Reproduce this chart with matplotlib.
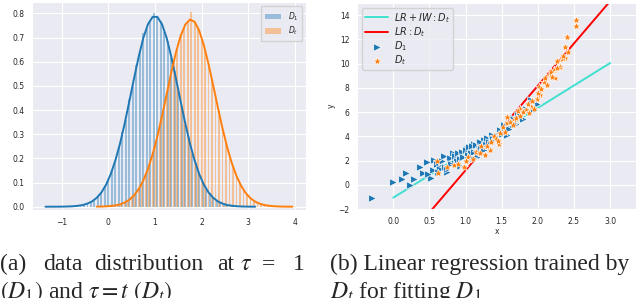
import numpy as np
import matplotlib
matplotlib.use("Agg")
import matplotlib.pyplot as plt
import seaborn as sns

# ---- (a) histogram + kde values ----
bin_w = 0.075
blue_bin_start = -0.9
blue_hist = [0.001, 0.002, 0.002, 0.004, 0.006, 0.009, 0.012, 0.021, 0.027, 0.044,
             0.057, 0.085, 0.108, 0.151, 0.186, 0.248, 0.31, 0.36, 0.445, 0.5,
             0.585, 0.635, 0.72, 0.735, 0.77, 0.80, 0.78, 0.77, 0.725, 0.685,
             0.615, 0.56, 0.478, 0.418, 0.34, 0.288, 0.22, 0.18, 0.13, 0.104,
             0.07, 0.055, 0.035, 0.027, 0.015, 0.012, 0.006, 0.005, 0.002, 0.002,
             0.001, 0.001]
orange_bin_start = -0.1
orange_hist = [0.001, 0.002, 0.003, 0.004, 0.008, 0.011, 0.018, 0.024, 0.039, 0.05,
               0.076, 0.097, 0.135, 0.168, 0.222, 0.268, 0.338, 0.392, 0.47, 0.525,
               0.605, 0.65, 0.715, 0.74, 0.77, 0.805, 0.76, 0.745, 0.695, 0.655,
               0.585, 0.53, 0.45, 0.395, 0.32, 0.268, 0.205, 0.17, 0.124, 0.098,
               0.068, 0.052, 0.033, 0.025, 0.015, 0.012, 0.006, 0.005, 0.003, 0.002,
               0.001, 0.001, 0.0005]

kde_step = 0.1
blue_kde_start = -1.35
blue_kde = [0.0, 0.0, 0.0001, 0.0002, 0.0005, 0.001, 0.002, 0.004, 0.007, 0.013,
            0.022, 0.037, 0.059, 0.091, 0.135, 0.192, 0.262, 0.345, 0.437, 0.531,
            0.621, 0.699, 0.756, 0.786, 0.786, 0.756, 0.699, 0.621, 0.531, 0.437,
            0.345, 0.262, 0.192, 0.135, 0.091, 0.059, 0.037, 0.022, 0.013, 0.007,
            0.004, 0.002, 0.001, 0.0005, 0.0002, 0.0001]
orange_kde_start = -0.25
orange_kde = [0.0004, 0.0007, 0.0015, 0.0029, 0.0055, 0.0099, 0.0173, 0.029, 0.047, 0.073,
              0.109, 0.157, 0.218, 0.291, 0.375, 0.465, 0.556, 0.639, 0.707, 0.754,
              0.775, 0.766, 0.729, 0.668, 0.590, 0.502, 0.411, 0.324, 0.246, 0.180,
              0.127, 0.086, 0.056, 0.035, 0.021, 0.0124, 0.007, 0.0038, 0.002, 0.001,
              0.0005, 0.0002, 0.0001]

# ---- (b) scatter + regression lines ----
d1_x = [-0.29, 0.0, 0.12, 0.18, 0.23, 0.29, 0.37, 0.41, 0.46, 0.52, 0.56, 0.63, 0.70,
        0.75, 0.83, 0.86, 1.02, 1.11, 1.16, 1.25, 1.41, 1.57, 1.62, 1.76, 1.90, 1.94,
        1.99, 0.55, 0.60, 0.65, 0.68, 0.72, 0.78, 0.80, 0.85, 0.88, 0.90, 0.93, 0.95,
        0.97, 1.00, 1.03, 1.05, 1.07, 1.09, 1.12, 1.14, 1.18, 1.20, 1.22, 1.28, 1.30,
        1.33, 1.36, 1.38, 1.44, 1.47, 1.50, 1.53, 1.60, 1.66, 1.70, 1.73, 1.80, 1.84,
        0.48, 0.62, 0.74, 0.92, 1.10, 1.26]
d1_y = [-1.1, 0.26, 0.48, 0.95, -0.01, 0.48, 1.5, 1.0, 1.9, 0.6, 2.05, 1.64, 2.4,
        1.1, 2.6, 1.83, 3.0, 3.4, 2.3, 3.7, 3.7, 4.1, 4.8, 5.6, 7.0, 6.2,
        6.7, 1.2, 1.7, 1.35, 2.0, 1.5, 2.2, 1.75, 2.4, 1.95, 2.6, 2.1, 2.75,
        2.3, 2.9, 2.45, 3.1, 2.6, 3.2, 2.75, 3.3, 2.9, 3.55, 3.1, 3.35, 3.9,
        3.55, 4.15, 3.75, 4.0, 4.55, 4.2, 4.9, 4.6, 5.5, 5.0, 5.8, 5.4, 6.3,
        0.9, 1.1, 1.3, 1.6, 2.2, 2.9]
dt_x = [0.60, 0.62, 0.75, 0.84, 0.98, 1.04, 1.14, 1.21, 1.27, 1.34, 1.39, 1.46, 1.52,
        1.57, 1.67, 1.76, 1.83, 1.90, 1.99, 2.03, 2.01, 2.08, 2.15, 2.22, 2.24, 2.26,
        2.33, 2.37, 2.40, 2.38, 2.53, 2.53, 2.30, 1.20, 1.30, 1.42, 1.48, 1.55, 1.62,
        1.70, 1.72, 1.80, 1.86, 1.88, 1.92, 1.95, 2.00, 2.05, 2.10, 2.12, 2.18, 2.20,
        2.27, 2.35, 2.42, 1.10, 1.00, 0.90, 1.58, 1.65, 1.75, 1.35, 1.45]
dt_y = [1.97, 0.95, 1.5, 1.64, 1.5, 2.3, 2.7, 3.2, 2.5, 2.9, 4.0, 3.4, 4.8,
        5.1, 5.35, 6.3, 6.2, 6.45, 7.1, 7.4, 8.1, 8.5, 9.05, 9.5, 8.8, 10.2,
        10.4, 11.4, 12.2, 10.5, 13.6, 13.1, 9.7, 2.6, 3.2, 3.8, 4.3, 4.4, 5.2,
        5.5, 6.1, 6.0, 6.7, 5.9, 6.9, 6.3, 7.6, 7.9, 8.8, 8.2, 9.3, 8.9,
        9.6, 10.6, 11.0, 2.1, 2.0, 1.7, 5.6, 4.9, 5.7, 3.5, 3.6]
line_x = [0.0, 3.0]
iw_pred = [-1.05, 10.05]
lr_pred = [-5.76, 15.15]

sns.set_style("darkgrid")
plt.rcParams['font.family'] = ['DejaVu Sans']

fig = plt.figure(figsize=(6.4, 2.98), dpi=100)

# left panel
ax1 = fig.add_axes([0.05, 0.295, 0.428, 0.697])
bx = blue_bin_start + bin_w * np.arange(len(blue_hist))
ox = orange_bin_start + bin_w * np.arange(len(orange_hist))
ax1.bar(bx, blue_hist, width=0.04, color='C0', alpha=0.4, linewidth=0, label='$D_1$')
ax1.bar(ox, orange_hist, width=0.04, color='C1', alpha=0.4, linewidth=0, label='$D_t$')
kbx = blue_kde_start + kde_step * np.arange(len(blue_kde))
kox = orange_kde_start + kde_step * np.arange(len(orange_kde))
ax1.plot(kbx, blue_kde, color='C0', lw=1.4)
ax1.plot(kox, orange_kde, color='C1', lw=1.4)
ax1.set_xlim(-1.64, 4.24)
ax1.set_ylim(-0.014, 0.846)
ax1.set_xticks([-1, 0, 1, 2, 3, 4])
ax1.set_yticks([0.0, 0.1, 0.2, 0.3, 0.4, 0.5, 0.6, 0.7, 0.8])
ax1.tick_params(labelsize=5.5, pad=2, colors='.15')
ax1.legend(loc='upper right', fontsize=5.5, handlelength=2.2, borderpad=0.5,
           labelspacing=0.3)

# right panel
ax2 = fig.add_axes([0.558, 0.298, 0.436, 0.692])
ax2.plot(line_x, iw_pred, color='turquoise', lw=1.4, label='$LR+IW: D_t$')
ax2.plot(line_x, lr_pred, color='red', lw=1.4, label='$LR: D_t$')
ax2.scatter(d1_x, d1_y, marker='>', s=30, color='C0', edgecolors='white', linewidths=0.5,
            label='$D_1$', zorder=3)
ax2.scatter(dt_x, dt_y, marker='*', s=40, color='C1', edgecolors='white', linewidths=0.4,
            label='$D_t$', zorder=3)
ax2.set_xlim(-0.5, 3.36)
ax2.set_ylim(-2, 15)
ax2.set_xticks([0.0, 0.5, 1.0, 1.5, 2.0, 2.5, 3.0])
ax2.set_yticks([-2, 0, 2, 4, 6, 8, 10, 12, 14])
ax2.tick_params(labelsize=5.5, pad=2, colors='.15')
ax2.set_xlabel('x', fontsize=5.5, labelpad=1)
ax2.set_ylabel('y', fontsize=5.5, labelpad=2)
ax2.legend(loc='upper left', fontsize=7, handlelength=2.4, borderpad=0.3,
           labelspacing=0.05, handletextpad=0.6)

# captions
cap = dict(family='Liberation Serif', fontsize=17, math_fontfamily='stix', va='baseline')
y1 = 1 - 270 / 298
y2 = 1 - 298 / 298
for word, px in [('(a)', 0), ('data', 43), ('distribution', 94), ('at', 217),
                 (r'$\tau$', 240), ('=', 262), ('1', 293)]:
    fig.text(px / 640, y1, word, **cap)
fig.text(0 / 640, y2, r'$(D_1)$ and $\tau=t$ $(D_t)$', **cap)
fig.text(330 / 640, y1, '(b) Linear regression trained by', **cap)
fig.text(330 / 640, y2, r'$D_t$ for fitting $D_1$', **cap)

fig.savefig('out.png', dpi=100)
